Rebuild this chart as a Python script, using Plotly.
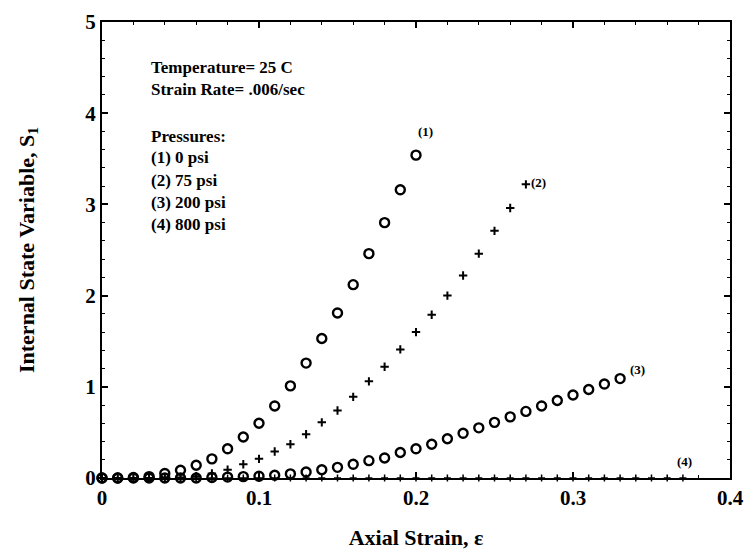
import plotly.graph_objects as go

# Axial strain sampling (0.01 steps)
strain_1 = [round(0.01 * i, 2) for i in range(0, 21)]
s1_0psi = [0.0, 0.0, 0.005, 0.015, 0.05, 0.085, 0.14, 0.21, 0.32, 0.45, 0.60,
           0.79, 1.01, 1.26, 1.53, 1.81, 2.12, 2.46, 2.80, 3.16, 3.54]

strain_2 = [round(0.01 * i, 2) for i in range(0, 28)]
s1_75psi = [0.0, 0.0, 0.0, 0.0, 0.0, 0.005, 0.02, 0.05, 0.09, 0.15, 0.21,
            0.29, 0.37, 0.48, 0.61, 0.74, 0.89, 1.06, 1.22, 1.41, 1.60,
            1.79, 2.00, 2.22, 2.46, 2.71, 2.96, 3.22]

strain_3 = [round(0.01 * i, 2) for i in range(0, 34)]
s1_200psi = [0.0, 0.0, 0.0, 0.0, 0.0, 0.0, 0.0, 0.005, 0.01, 0.015, 0.02,
             0.03, 0.045, 0.065, 0.09, 0.117, 0.15, 0.19, 0.22, 0.28, 0.32,
             0.37, 0.43, 0.49, 0.55, 0.61, 0.67, 0.73, 0.79, 0.85, 0.91,
             0.97, 1.03, 1.09]

strain_4 = [round(0.01 * i, 2) for i in range(0, 38)]
s1_800psi = [0.0] * 38

# Curve tags: (label, strain, S1)
curve_tags = [("(1)", 0.206, 3.80), ("(2)", 0.278, 3.24),
              ("(3)", 0.341, 1.19), ("(4)", 0.371, 0.18)]

# Condition notes: (text, S1 position of the line)
info_lines = [("Temperature= 25 C", 4.50), ("Strain Rate= .006/sec", 4.26),
              ("Pressures:", 3.74), ("(1) 0 psi", 3.51), ("(2) 75 psi", 3.26),
              ("(3) 200 psi", 3.02), ("(4) 800 psi", 2.78)]

FONT = "Liberation Serif"

fig = go.Figure()

circle = dict(symbol="circle-open", size=9, color="black", line=dict(width=2.4, color="black"))
plus = dict(symbol="cross-thin-open", size=6, color="black", line=dict(width=2, color="black"))
small_plus = dict(symbol="cross-thin-open", size=5, color="black", line=dict(width=1.5, color="black"))

fig.add_trace(go.Scatter(x=strain_4, y=s1_800psi, mode="markers", marker=small_plus,
                         cliponaxis=False, showlegend=False))
fig.add_trace(go.Scatter(x=strain_3, y=s1_200psi, mode="markers", marker=circle,
                         cliponaxis=False, showlegend=False))
fig.add_trace(go.Scatter(x=strain_2, y=s1_75psi, mode="markers", marker=plus,
                         cliponaxis=False, showlegend=False))
fig.add_trace(go.Scatter(x=strain_1, y=s1_0psi, mode="markers", marker=circle,
                         cliponaxis=False, showlegend=False))

for label, xv, yv in curve_tags:
    fig.add_annotation(x=xv, y=yv, text=label, showarrow=False,
                       font=dict(family=FONT, size=13, color="black", weight="bold"))

for text, yv in info_lines:
    fig.add_annotation(x=0.030, y=yv, xanchor="left", yanchor="middle", align="left",
                       text=text, showarrow=False,
                       font=dict(family=FONT, size=17, color="black", weight="bold"))

axis_common = dict(
    showline=True, linewidth=2, linecolor="black", mirror="ticks",
    ticks="inside", ticklen=6, tickwidth=1.5, tickcolor="black",
    showgrid=False, zeroline=False,
    tickfont=dict(family=FONT, size=21, color="black", weight="bold"),
)

fig.update_xaxes(range=[0, 0.4], tickvals=[0, 0.1, 0.2, 0.3, 0.4],
                 ticktext=["0", "0.1", "0.2", "0.3", "0.4"],
                 minor=dict(dtick=0.02, ticks="inside", ticklen=3, tickcolor="black", tickwidth=1.2),
                 title=dict(text="Axial Strain, ε", standoff=20,
                            font=dict(family=FONT, size=22, color="black", weight="bold")),
                 **axis_common)
fig.update_yaxes(range=[0, 5], tickvals=[0, 1, 2, 3, 4, 5],
                 minor=dict(dtick=0.2, ticks="inside", ticklen=3, tickcolor="black", tickwidth=1.2),
                 title=dict(text="Internal State Variable, S<sub>1</sub>", standoff=45,
                            font=dict(family=FONT, size=22, color="black", weight="bold")),
                 **axis_common)

fig.update_layout(width=754, height=556, margin=dict(l=102, r=17, t=10, b=74),
                  plot_bgcolor="white", paper_bgcolor="white")

fig.write_html("out.html")
